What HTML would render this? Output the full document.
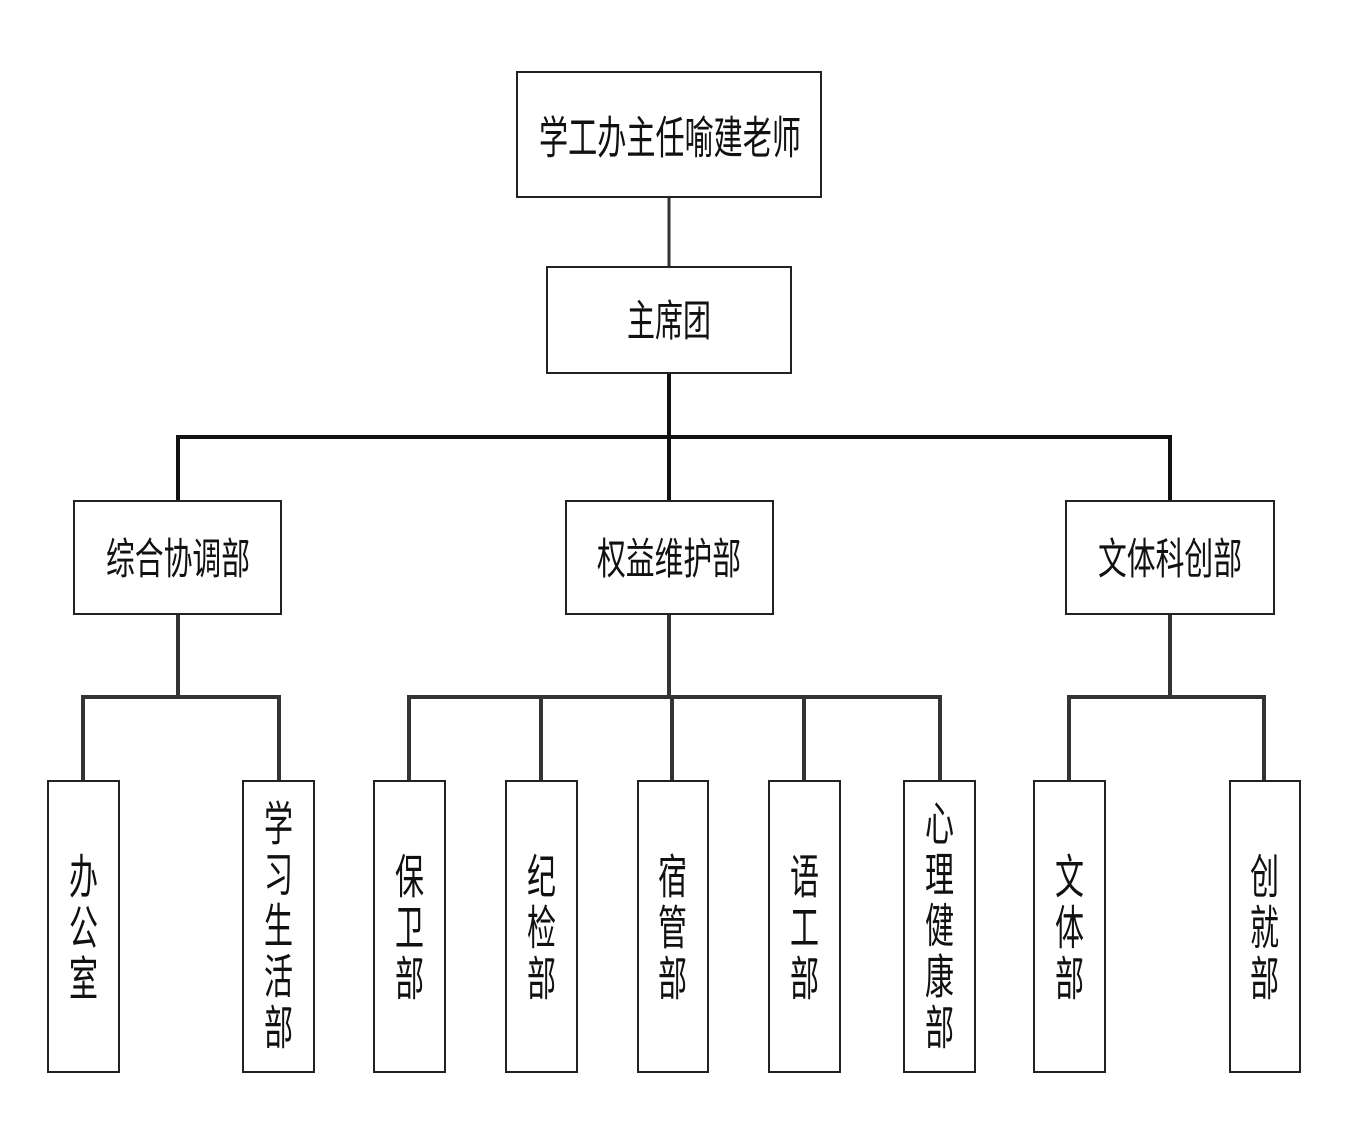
<!DOCTYPE html>
<html><head><meta charset="utf-8">
<style>
html,body{margin:0;padding:0;background:#fff;}
svg{display:block;}
text{font-family:"Liberation Sans","Noto Sans CJK SC",sans-serif;fill:#111;dominant-baseline:central;}
</style></head>
<body>
<svg width="1348" height="1144" viewBox="0 0 1348 1144" xmlns="http://www.w3.org/2000/svg">
<rect x="0" y="0" width="1348" height="1144" fill="#fff"/>
<!-- connectors -->
<g stroke="#333" stroke-width="3" fill="none">
  <line x1="669" y1="197" x2="669" y2="266"/>
</g>
<g stroke="#111" stroke-width="4" fill="none" stroke-linecap="square">
  <line x1="669" y1="374" x2="669" y2="437"/>
  <line x1="178" y1="437" x2="1170" y2="437"/>
  <line x1="178" y1="437" x2="178" y2="499"/>
  <line x1="669" y1="437" x2="669" y2="499"/>
  <line x1="1170" y1="437" x2="1170" y2="499"/>
</g>
<g stroke="#333" stroke-width="4" fill="none" stroke-linecap="square">
  <line x1="178" y1="615" x2="178" y2="697"/>
  <line x1="669" y1="615" x2="669" y2="697"/>
  <line x1="1170" y1="615" x2="1170" y2="697"/>
  <line x1="83" y1="697" x2="279" y2="697"/>
  <line x1="409" y1="697" x2="940" y2="697"/>
  <line x1="1069" y1="697" x2="1264" y2="697"/>
  <line x1="83" y1="697" x2="83" y2="779"/>
  <line x1="279" y1="697" x2="279" y2="779"/>
  <line x1="409" y1="697" x2="409" y2="779"/>
  <line x1="541" y1="697" x2="541" y2="779"/>
  <line x1="672" y1="697" x2="672" y2="779"/>
  <line x1="804" y1="697" x2="804" y2="779"/>
  <line x1="940" y1="697" x2="940" y2="779"/>
  <line x1="1069" y1="697" x2="1069" y2="779"/>
  <line x1="1264" y1="697" x2="1264" y2="779"/>
</g>
<!-- boxes -->
<g stroke="#222" stroke-width="2" fill="#fff">
  <rect x="517" y="72" width="304" height="125"/>
  <rect x="547" y="267" width="244" height="106"/>
  <rect x="74" y="501" width="207" height="113"/>
  <rect x="566" y="501" width="207" height="113"/>
  <rect x="1066" y="501" width="208" height="113"/>
  <rect x="48" y="781" width="71" height="291"/>
  <rect x="243" y="781" width="71" height="291"/>
  <rect x="374" y="781" width="71" height="291"/>
  <rect x="506" y="781" width="71" height="291"/>
  <rect x="638" y="781" width="70" height="291"/>
  <rect x="769" y="781" width="71" height="291"/>
  <rect x="904" y="781" width="71" height="291"/>
  <rect x="1034" y="781" width="71" height="291"/>
  <rect x="1230" y="781" width="70" height="291"/>
</g>
<!-- texts -->
<text x="539" y="138" font-size="45" textLength="262" lengthAdjust="spacingAndGlyphs">学工办主任喻建老师</text>
<text x="627" y="322" font-size="43" textLength="84" lengthAdjust="spacingAndGlyphs">主席团</text>
<text x="106" y="560" font-size="43" textLength="144" lengthAdjust="spacingAndGlyphs">综合协调部</text>
<text x="597" y="560" font-size="43" textLength="144" lengthAdjust="spacingAndGlyphs">权益维护部</text>
<text x="1098" y="560" font-size="43" textLength="144" lengthAdjust="spacingAndGlyphs">文体科创部</text>

<g font-size="47">
  <!-- 办公室 -->
  <text x="69" y="877" textLength="29" lengthAdjust="spacingAndGlyphs">办</text>
  <text x="69" y="928" textLength="29" lengthAdjust="spacingAndGlyphs">公</text>
  <text x="69" y="979" textLength="29" lengthAdjust="spacingAndGlyphs">室</text>
  <!-- 学习生活部 -->
  <text x="264" y="824" textLength="29" lengthAdjust="spacingAndGlyphs">学</text>
  <text x="264" y="875" textLength="29" lengthAdjust="spacingAndGlyphs">习</text>
  <text x="264" y="926" textLength="29" lengthAdjust="spacingAndGlyphs">生</text>
  <text x="264" y="977" textLength="29" lengthAdjust="spacingAndGlyphs">活</text>
  <text x="264" y="1028" textLength="29" lengthAdjust="spacingAndGlyphs">部</text>
  <!-- 保卫部 -->
  <text x="395" y="877" textLength="29" lengthAdjust="spacingAndGlyphs">保</text>
  <text x="395" y="928" textLength="29" lengthAdjust="spacingAndGlyphs">卫</text>
  <text x="395" y="979" textLength="29" lengthAdjust="spacingAndGlyphs">部</text>
  <!-- 纪检部 -->
  <text x="527" y="877" textLength="29" lengthAdjust="spacingAndGlyphs">纪</text>
  <text x="527" y="928" textLength="29" lengthAdjust="spacingAndGlyphs">检</text>
  <text x="527" y="979" textLength="29" lengthAdjust="spacingAndGlyphs">部</text>
  <!-- 宿管部 -->
  <text x="658" y="877" textLength="29" lengthAdjust="spacingAndGlyphs">宿</text>
  <text x="658" y="928" textLength="29" lengthAdjust="spacingAndGlyphs">管</text>
  <text x="658" y="979" textLength="29" lengthAdjust="spacingAndGlyphs">部</text>
  <!-- 语工部 -->
  <text x="790" y="877" textLength="29" lengthAdjust="spacingAndGlyphs">语</text>
  <text x="790" y="928" textLength="29" lengthAdjust="spacingAndGlyphs">工</text>
  <text x="790" y="979" textLength="29" lengthAdjust="spacingAndGlyphs">部</text>
  <!-- 心理健康部 -->
  <text x="925" y="824" textLength="29" lengthAdjust="spacingAndGlyphs">心</text>
  <text x="925" y="875" textLength="29" lengthAdjust="spacingAndGlyphs">理</text>
  <text x="925" y="926" textLength="29" lengthAdjust="spacingAndGlyphs">健</text>
  <text x="925" y="977" textLength="29" lengthAdjust="spacingAndGlyphs">康</text>
  <text x="925" y="1028" textLength="29" lengthAdjust="spacingAndGlyphs">部</text>
  <!-- 文体部 -->
  <text x="1055" y="877" textLength="29" lengthAdjust="spacingAndGlyphs">文</text>
  <text x="1055" y="928" textLength="29" lengthAdjust="spacingAndGlyphs">体</text>
  <text x="1055" y="979" textLength="29" lengthAdjust="spacingAndGlyphs">部</text>
  <!-- 创就部 -->
  <text x="1250" y="877" textLength="29" lengthAdjust="spacingAndGlyphs">创</text>
  <text x="1250" y="928" textLength="29" lengthAdjust="spacingAndGlyphs">就</text>
  <text x="1250" y="979" textLength="29" lengthAdjust="spacingAndGlyphs">部</text>
</g>
</svg>
</body></html>
